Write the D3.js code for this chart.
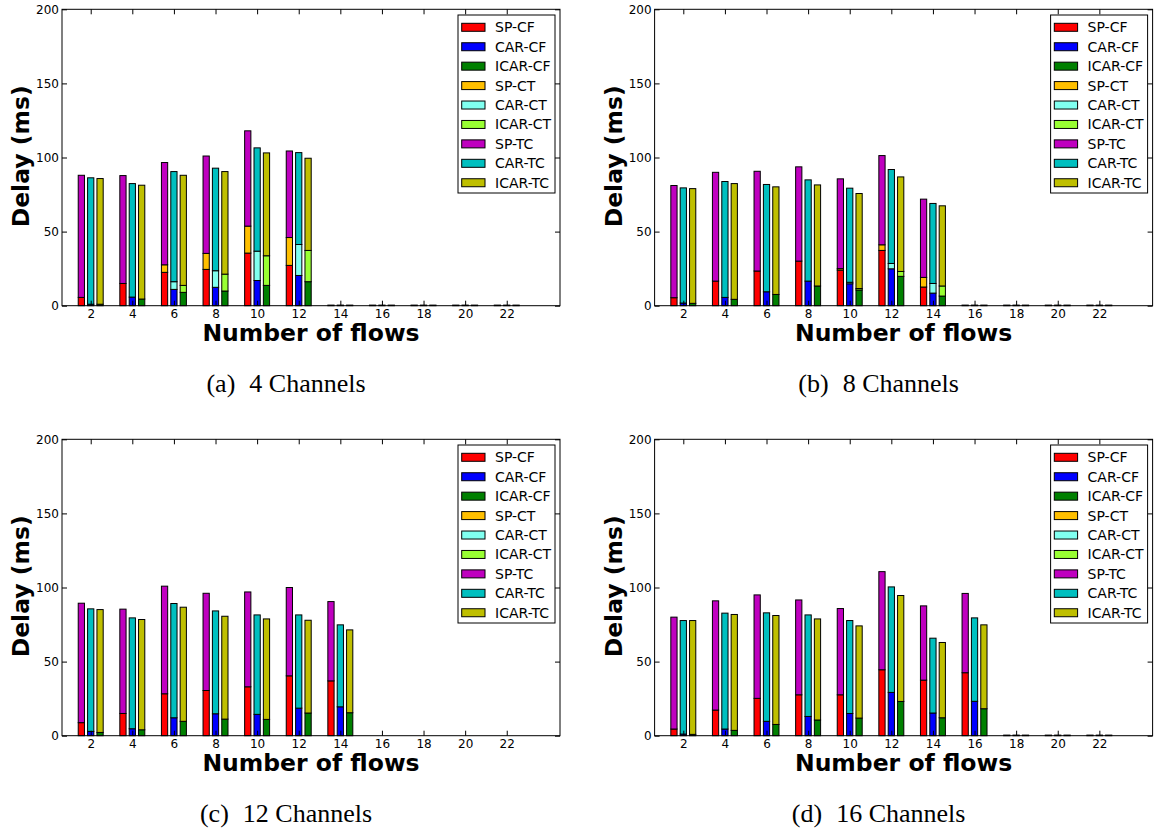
<!DOCTYPE html>
<html><head><meta charset="utf-8">
<script src="https://cdn.jsdelivr.net/npm/d3@7"></script>
<style>body{margin:0;background:#fff} svg{display:block}</style>
</head><body><svg id="c" width="1156" height="831"></svg>
<script>
const flows = [2,4,6,8,10,12,14,16,18,20,22];
const yTicks = [0,50,100,150,200];
const systems = ["SP","CAR","ICAR"];
const phases = ["CF","CT","TC"];
const legendLabels = ["SP-CF","CAR-CF","ICAR-CF","SP-CT","CAR-CT","ICAR-CT","SP-TC","CAR-TC","ICAR-TC"];
const captionTags = ["(a)","(b)","(c)","(d)"];
const captionTexts = ["4 Channels","8 Channels","12 Channels","16 Channels"];

// (a) 4 Channels
const a_SP_CF   = [5.6, 15, 22.5, 24.5, 35.5, 27.2, 0, 0, 0, 0, 0];
const a_SP_CT   = [0, 0, 5.1, 10.8, 18.2, 18.8, 0, 0, 0, 0, 0];
const a_SP_TC   = [82.4, 72.8, 69, 65.7, 64.3, 58.4, 0, 0, 0, 0, 0];
const a_CAR_CF  = [1, 5.8, 11, 12.4, 17, 20.4, 0, 0, 0, 0, 0];
const a_CAR_CT  = [0, 0, 5.2, 11.2, 19.8, 20.9, 0, 0, 0, 0, 0];
const a_CAR_TC  = [85.3, 76.6, 74.3, 69.2, 69.7, 62, 0, 0, 0, 0, 0];
const a_ICAR_CF = [1, 4.5, 9, 9.9, 13.7, 16.2, 0, 0, 0, 0, 0];
const a_ICAR_CT = [0, 0, 4.7, 11.4, 20, 21.1, 0, 0, 0, 0, 0];
const a_ICAR_TC = [84.8, 76.8, 74.3, 69.2, 69.4, 62.2, 0, 0, 0, 0, 0];

// (b) 8 Channels
const b_SP_CF   = [5.4, 16.6, 23.4, 30.1, 24, 37.3, 12.6, 0, 0, 0, 0];
const b_SP_CT   = [0, 0, 0, 0, 1, 3.8, 6.5, 0, 0, 0, 0];
const b_SP_TC   = [75.7, 73.4, 67.3, 63.6, 60.6, 60.2, 52.8, 0, 0, 0, 0];
const b_CAR_CF  = [1.8, 5.6, 9.4, 16.6, 14.8, 24.9, 8.5, 0, 0, 0, 0];
const b_CAR_CT  = [0, 0, 0, 0, 1, 3.6, 6.5, 0, 0, 0, 0];
const b_CAR_TC  = [77.7, 78.2, 72.4, 68.3, 63.5, 63.4, 54, 0, 0, 0, 0];
const b_ICAR_CF = [1.6, 4.3, 7.6, 13.3, 10.6, 19.8, 6.5, 0, 0, 0, 0];
const b_ICAR_CT = [0, 0, 0, 0, 1, 3.3, 6.8, 0, 0, 0, 0];
const b_ICAR_TC = [77.4, 78.1, 72.6, 68.2, 64.1, 63.8, 54.1, 0, 0, 0, 0];

// (c) 12 Channels
const c_SP_CF   = [8.8, 15, 28.3, 30.5, 33, 40.4, 37, null, null, null, null];
const c_SP_CT   = [0, 0, 0, 0, 0, 0, 0, null, null, null, null];
const c_SP_TC   = [80.6, 70.4, 72.6, 65.6, 64, 59.6, 53.5, null, null, null, null];
const c_CAR_CF  = [2.9, 4.7, 12.1, 14.8, 14.4, 18.6, 19.5, null, null, null, null];
const c_CAR_CT  = [0, 0, 0, 0, 0, 0, 0, null, null, null, null];
const c_CAR_TC  = [82.7, 74.8, 77.1, 69.4, 67.1, 62.9, 55.3, null, null, null, null];
const c_ICAR_CF = [2.2, 4, 9.7, 11.2, 11, 15.3, 15.5, null, null, null, null];
const c_ICAR_CT = [0, 0, 0, 0, 0, 0, 0, null, null, null, null];
const c_ICAR_TC = [82.9, 74.4, 77, 69.4, 67.8, 62.6, 55.9, null, null, null, null];

// (d) 16 Channels
const d_SP_CF   = [4.5, 17.3, 25.2, 27.6, 27.6, 44.5, 37.5, 42.5, 0, 0, 0];
const d_SP_CT   = [0, 0, 0, 0, 0, 0, 0, 0, 0, 0, 0];
const d_SP_TC   = [75.5, 73.7, 69.8, 64, 58.2, 66.2, 50.1, 53.5, 0, 0, 0];
const d_CAR_CF  = [1.1, 4.5, 9.7, 13, 15, 29.2, 15.3, 23.2, 0, 0, 0];
const d_CAR_CT  = [0, 0, 0, 0, 0, 0, 0, 0, 0, 0, 0];
const d_CAR_TC  = [76.6, 78.2, 73.2, 68.5, 62.7, 71.2, 50.5, 56.3, 0, 0, 0];
const d_ICAR_CF = [0.9, 3.6, 7.6, 10.6, 11.9, 23.1, 12.1, 18.2, 0, 0, 0];
const d_ICAR_CT = [0, 0, 0, 0, 0, 0, 0, 0, 0, 0, 0];
const d_ICAR_TC = [76.8, 78.2, 73.5, 68.2, 62.2, 71.5, 50.8, 56.6, 0, 0, 0];

const colors = {
  "SP-CF":"#ff0000","CAR-CF":"#0000ff","ICAR-CF":"#008000",
  "SP-CT":"#ffbf00","CAR-CT":"#80fff0","ICAR-CT":"#99ff33",
  "SP-TC":"#bf00bf","CAR-TC":"#00bfbf","ICAR-TC":"#bfbf00"
};

const PW = 498, PH = 296.4;
const panels = [
  {left:62, top:9.3, tag:captionTags[0], text:captionTexts[0],
   data:{SP:[a_SP_CF,a_SP_CT,a_SP_TC], CAR:[a_CAR_CF,a_CAR_CT,a_CAR_TC], ICAR:[a_ICAR_CF,a_ICAR_CT,a_ICAR_TC]}},
  {left:654.6, top:9.3, tag:captionTags[1], text:captionTexts[1],
   data:{SP:[b_SP_CF,b_SP_CT,b_SP_TC], CAR:[b_CAR_CF,b_CAR_CT,b_CAR_TC], ICAR:[b_ICAR_CF,b_ICAR_CT,b_ICAR_TC]}},
  {left:62, top:439.3, tag:captionTags[2], text:captionTexts[2],
   data:{SP:[c_SP_CF,c_SP_CT,c_SP_TC], CAR:[c_CAR_CF,c_CAR_CT,c_CAR_TC], ICAR:[c_ICAR_CF,c_ICAR_CT,c_ICAR_TC]}},
  {left:654.6, top:439.3, tag:captionTags[3], text:captionTexts[3],
   data:{SP:[d_SP_CF,d_SP_CT,d_SP_TC], CAR:[d_CAR_CF,d_CAR_CT,d_CAR_TC], ICAR:[d_ICAR_CF,d_ICAR_CT,d_ICAR_TC]}}
];
const sysOffset = {SP:-0.45, CAR:0, ICAR:0.45};
const barW = 0.3;

const svg = d3.select("#c");
svg.append("rect").attr("width",1156).attr("height",831).attr("fill","#fff");

panels.forEach(p => {
  const g = svg.append("g");
  const x = d3.scaleLinear().domain([0.62, 24.56]).range([p.left, p.left + PW]);
  const y = d3.scaleLinear().domain([0, 200]).range([p.top + PH, p.top]);

  // bars
  systems.forEach(s => {
    const rows = flows.map((f, i) => ({flow:f, CF:p.data[s][0][i], CT:p.data[s][1][i], TC:p.data[s][2][i]}))
      .filter(r => r.CF != null);
    const layers = d3.stack().keys(phases)(rows);
    layers.forEach(layer => {
      const key = s + "-" + layer.key;
      const segs = layer.filter(d => (d[1] - d[0]) > 0 ||
        (layer.key === "CF" && (d.data.CF + d.data.CT + d.data.TC) === 0));
      g.append("g").selectAll("rect").data(segs).join("rect")
        .attr("x", d => x(d.data.flow + sysOffset[s] - barW/2))
        .attr("width", x(barW) - x(0))
        .attr("y", d => (d[1] - d[0]) > 0 ? y(d[1]) : y(0) - 0.6)
        .attr("height", d => (d[1] - d[0]) > 0 ? y(d[0]) - y(d[1]) : 0.6)
        .attr("fill", colors[key])
        .attr("stroke", "#000")
        .attr("stroke-width", 1);
    });
  });

  // frame
  g.append("rect").attr("x", p.left).attr("y", p.top).attr("width", PW).attr("height", PH)
    .attr("fill", "none").attr("stroke", "#000").attr("stroke-width", 1);

  const styleAxis = a => {
    a.select(".domain").remove();
    a.attr("font-family", "DejaVu Sans").attr("font-size", 12);
    a.selectAll("line").attr("stroke", "#000");
    a.selectAll("text").attr("fill", "#000");
  };
  g.append("g").attr("transform", `translate(0,${y(0)})`)
    .call(d3.axisBottom(x).tickValues(flows).tickSize(-5).tickSizeOuter(0).tickPadding(4)).call(styleAxis);
  g.append("g").attr("transform", `translate(0,${p.top})`)
    .call(d3.axisTop(x).tickValues(flows).tickSize(-5).tickSizeOuter(0).tickFormat("")).call(styleAxis);
  g.append("g").attr("transform", `translate(${p.left},0)`)
    .call(d3.axisLeft(y).tickValues(yTicks).tickSize(-5).tickSizeOuter(0).tickPadding(3)).call(styleAxis);
  g.append("g").attr("transform", `translate(${p.left + PW},0)`)
    .call(d3.axisRight(y).tickValues(yTicks).tickSize(-5).tickSizeOuter(0).tickFormat("")).call(styleAxis);

  // axis titles
  g.append("text").attr("x", p.left + PW/2).attr("y", p.top + 332)
    .attr("text-anchor", "middle").attr("font-family", "DejaVu Sans").attr("font-weight", "bold")
    .attr("font-size", 23.5).text("Number of flows");
  g.append("text").attr("transform", `translate(${p.left - 33},${p.top + 147}) rotate(-90)`)
    .attr("text-anchor", "middle").attr("font-family", "DejaVu Sans").attr("font-weight", "bold")
    .attr("font-size", 23.5).text("Delay (ms)");

  // legend
  const lx = p.left + 396, ly = p.top + 5.7;
  const lg = g.append("g");
  lg.append("rect").attr("x", lx).attr("y", ly).attr("width", 97).attr("height", 178)
    .attr("fill", "#fff").attr("stroke", "#000").attr("stroke-width", 1);
  const rows = lg.selectAll("g.row").data(legendLabels).join("g")
    .attr("transform", (d, i) => `translate(0,${p.top + 18 + i * 19.43})`);
  rows.append("rect").attr("x", lx + 3.7).attr("y", -4).attr("width", 23.3).attr("height", 8)
    .attr("fill", d => colors[d]).attr("stroke", "#000").attr("stroke-width", 1);
  rows.append("text").attr("x", lx + 37).attr("y", 0).attr("dy", "0.36em")
    .attr("font-family", "DejaVu Sans").attr("font-size", 14).text(d => d);

  // caption
  const cap = g.append("text").attr("x", p.left + 224).attr("y", p.top + 383)
    .attr("text-anchor", "middle").attr("font-family", "Liberation Serif").attr("font-size", 26);
  cap.append("tspan").text(p.tag);
  cap.append("tspan").attr("dx", 14).text(p.text);
});
</script>
</body></html>
